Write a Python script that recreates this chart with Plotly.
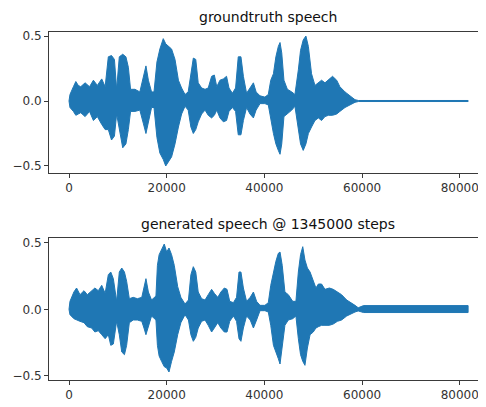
import plotly.graph_objects as go

# ---- data: amplitude envelope of the waveforms ----
gt_x = [0, 200, 900, 1400, 1900, 2400, 3300, 4200, 5000, 5800, 6700, 7400, 8050, 8700, 9300,
        9750, 10300, 11000, 11650, 12150, 12600, 13500, 14500, 15200, 15750, 16250, 16900, 17400,
        18000, 18600, 19300, 19800, 20300, 21000, 21700, 22400, 23050, 23750, 24400, 24950, 25450,
        25950, 26450, 27150, 27850, 28500, 29200, 29750, 30250, 30900, 31600, 32250, 32750, 33450,
        34100, 34650, 35200, 35700, 36350, 37050, 37750, 38300, 39100, 40100, 40800, 41300, 41850,
        42350, 42850, 43200, 43550, 44000, 44700, 45600, 46250, 46950, 47400, 47950, 48500, 49000,
        49650, 50350, 51050, 51700, 52400, 53100, 53950, 54800, 55450, 56500, 57500, 58550, 59250,
        81700]
gt_hi = [0.0, 0.05, 0.11, 0.15, 0.12, 0.11, 0.14, 0.11, 0.16, 0.12, 0.17, 0.11, 0.34, 0.35, 0.32,
         0.09, 0.34, 0.36, 0.34, 0.26, 0.09, 0.09, 0.07, 0.19, 0.27, 0.16, 0.07, 0.07,
         0.30, 0.40, 0.48, 0.44, 0.42, 0.40, 0.32, 0.16, 0.10, 0.05, 0.07, 0.19, 0.33,
         0.32, 0.14, 0.10, 0.09, 0.10, 0.19, 0.20, 0.11, 0.16, 0.17, 0.19, 0.10, 0.06,
         0.10, 0.34, 0.34, 0.19, 0.06, 0.10, 0.14, 0.07, 0.04, 0.03, 0.05, 0.16, 0.21,
         0.34, 0.42, 0.45, 0.37, 0.16, 0.09, 0.07, 0.05, 0.24, 0.39, 0.47, 0.50, 0.42,
         0.21, 0.12, 0.14, 0.16, 0.14, 0.16, 0.19, 0.16, 0.11, 0.07, 0.04, 0.01, 0.004,
         0.004]
gt_lo = [0.0, -0.05, -0.08, -0.11, -0.10, -0.09, -0.12, -0.08, -0.15, -0.12, -0.18, -0.22, -0.22, -0.30, -0.27,
         -0.10, -0.20, -0.36, -0.33, -0.22, -0.08, -0.08, -0.07, -0.17, -0.25, -0.15, -0.05, -0.05,
         -0.28, -0.40, -0.45, -0.50, -0.47, -0.43, -0.33, -0.20, -0.10, -0.04, -0.07, -0.20, -0.25,
         -0.22, -0.16, -0.10, -0.07, -0.11, -0.13, -0.11, -0.07, -0.13, -0.16, -0.15, -0.08, -0.05,
         -0.08, -0.26, -0.26, -0.15, -0.05, -0.10, -0.13, -0.07, -0.02, -0.02, -0.03, -0.12, -0.25,
         -0.33, -0.38, -0.41, -0.33, -0.12, -0.10, -0.07, -0.04, -0.20, -0.33, -0.38, -0.33, -0.25,
         -0.20, -0.15, -0.13, -0.15, -0.12, -0.11, -0.11, -0.10, -0.08, -0.05, -0.03, -0.01, -0.004,
         -0.004]

gen_x = [0, 200, 1000, 1550, 2250, 3070, 3750, 4640, 5300, 6000, 6700, 7400, 8050, 8550, 9075,
         9750, 10300, 10800, 11350, 11800, 12350, 13150, 14000, 14900, 15350, 15750, 16250, 16900,
         17800, 18100, 18450, 18950, 19500, 20000, 20470, 21000, 21550, 22250, 22900, 23750, 24450,
         24950, 25450, 25950, 26450, 27150, 27850, 28500, 29200, 29750, 30450, 31100, 31800, 32350,
         32900, 33650, 34300, 34800, 35200, 35700, 36350, 37100, 37750, 38400, 39100, 40100, 40800,
         41300, 41850, 42350, 42850, 43200, 43650, 44200, 44900, 45800, 46450, 46950, 47400, 47850,
         48300, 48800, 49350, 50000, 50550, 51050, 51700, 52400, 53300, 54100, 54950, 55800, 56850,
         57850, 58550, 59200, 60300, 81700]
gen_hi = [0.0, 0.06, 0.13, 0.16, 0.11, 0.14, 0.11, 0.14, 0.16, 0.14, 0.18, 0.12, 0.26, 0.28, 0.23,
          0.06, 0.28, 0.31, 0.28, 0.21, 0.08, 0.09, 0.08, 0.09, 0.16, 0.23, 0.13, 0.07,
          0.10, 0.33, 0.41, 0.45, 0.49, 0.43, 0.46, 0.41, 0.33, 0.17, 0.09, 0.04, 0.07,
          0.26, 0.32, 0.28, 0.13, 0.08, 0.07, 0.11, 0.15, 0.12, 0.09, 0.13, 0.16, 0.15,
          0.06, 0.05, 0.09, 0.28, 0.28, 0.16, 0.06, 0.09, 0.13, 0.06, 0.03, 0.03, 0.05,
          0.18, 0.28, 0.36, 0.42, 0.43, 0.33, 0.13, 0.11, 0.06, 0.06, 0.28, 0.41, 0.47,
          0.37, 0.31, 0.28, 0.21, 0.16, 0.19, 0.19, 0.15, 0.16, 0.15, 0.13, 0.11, 0.07,
          0.05, 0.03, 0.012, 0.028, 0.028]
gen_lo = [0.0, -0.04, -0.07, -0.08, -0.09, -0.10, -0.13, -0.14, -0.17, -0.16, -0.19, -0.22, -0.19, -0.27, -0.26,
          -0.09, -0.19, -0.32, -0.34, -0.27, -0.10, -0.08, -0.08, -0.09, -0.14, -0.19, -0.14, -0.05,
          -0.08, -0.27, -0.35, -0.39, -0.43, -0.44, -0.47, -0.39, -0.32, -0.19, -0.10, -0.04, -0.08,
          -0.19, -0.24, -0.21, -0.14, -0.09, -0.08, -0.12, -0.17, -0.14, -0.10, -0.14, -0.17, -0.17,
          -0.09, -0.05, -0.09, -0.22, -0.24, -0.14, -0.05, -0.08, -0.14, -0.08, -0.01, -0.01, -0.02,
          -0.12, -0.27, -0.32, -0.37, -0.41, -0.27, -0.12, -0.08, -0.07, -0.05, -0.22, -0.34, -0.39,
          -0.42, -0.29, -0.19, -0.17, -0.14, -0.13, -0.12, -0.12, -0.12, -0.11, -0.09, -0.08, -0.05,
          -0.03, -0.02, -0.012, -0.024, -0.024]

titles = ["groundtruth speech", "generated speech @ 1345000 steps"]
x_ticks = [0, 20000, 40000, 60000, 80000]
x_tick_labels = ["0", "20000", "40000", "60000", "80000"]
y_ticks = [-0.5, 0.0, 0.5]
y_tick_labels = ["\u22120.5", "0.0", "0.5"]

BLUE = "#1f77b4"
AXC = "#3a3a3a"
FONT = "DejaVu Sans"

fig = go.Figure()
for xs, hi, lo, xa, ya in [(gt_x, gt_hi, gt_lo, "x", "y"), (gen_x, gen_hi, gen_lo, "x2", "y2")]:
    fig.add_trace(go.Scatter(
        x=xs + xs[::-1], y=hi + lo[::-1], mode="lines", fill="toself",
        fillcolor=BLUE, line=dict(color=BLUE, width=1), xaxis=xa, yaxis=ya,
        hoverinfo="skip", showlegend=False))

xcommon = dict(range=[-4094, 85364], tickvals=x_ticks, ticktext=x_tick_labels,
               showline=True, mirror=True, linecolor=AXC, linewidth=1,
               ticks="outside", ticklen=4, tickwidth=1, tickcolor=AXC,
               showgrid=False, zeroline=False, automargin=False,
               tickfont=dict(family=FONT, size=12, color="#333"))
ycommon = dict(tickvals=y_ticks, ticktext=y_tick_labels,
               showline=True, mirror=False, linecolor=AXC, linewidth=1,
               ticks="outside", ticklen=4, tickwidth=1, tickcolor=AXC,
               showgrid=False, zeroline=False, automargin=False,
               tickfont=dict(family=FONT, size=12, color="#333"))

# the page body has an 8px margin, so the figure is 8px smaller and offset
fig.update_layout(
    width=478, height=399,
    margin=dict(l=41, r=0, t=24, b=27, pad=0, autoexpand=False),
    paper_bgcolor="white", plot_bgcolor="white",
    showlegend=False,
    xaxis=dict(domain=[0, 1], anchor="y", **xcommon),
    yaxis=dict(domain=[0.5948, 1], anchor="x", range=[-0.554, 0.531], **ycommon),
    xaxis2=dict(domain=[0, 1], anchor="y2", **xcommon),
    yaxis2=dict(domain=[0, 0.408], anchor="x2", range=[-0.530, 0.535], **ycommon),
    annotations=[
        dict(text=titles[0], x=0.5, y=1.043, xref="paper", yref="paper",
             xanchor="center", yanchor="middle", showarrow=False,
             font=dict(family=FONT, size=14, color="#111")),
        dict(text=titles[1], x=0.5, y=0.448, xref="paper", yref="paper",
             xanchor="center", yanchor="middle", showarrow=False,
             font=dict(family=FONT, size=14, color="#111")),
    ],
)

fig.write_html("out.html")
